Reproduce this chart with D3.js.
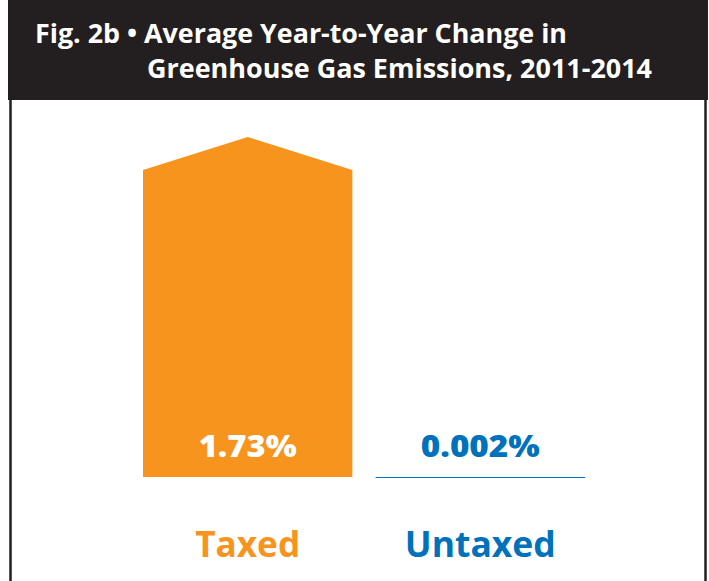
<!DOCTYPE html>
<html>
<head>
<meta charset="utf-8">
<script src="https://cdn.jsdelivr.net/npm/d3@7"></script>
<style>
  body { margin: 0; background: #fff; }
  svg { display: block; font-family: "Open Sans", sans-serif; }
</style>
</head>
<body>
<svg id="chart" width="709" height="581"></svg>
<script>
// data
var categories = ["Taxed", "Untaxed"];
var values = [1.73, 0.002];
var valueLabels = ["1.73%", "0.002%"];
var titleLines = ["Fig. 2b \u2022 Average Year-to-Year Change in", "Greenhouse Gas Emissions, 2011-2014"];

var orange = "#f7941e", blue = "#0071bb", dark = "#231f20";

var svg = d3.select("#chart");

// frame + header
svg.append("rect")
    .attr("x", 10.5).attr("y", 60)
    .attr("width", 695).attr("height", 530)
    .attr("fill", "#fff").attr("stroke", dark).attr("stroke-width", 2.5);

svg.append("rect")
    .attr("x", 8).attr("y", 0)
    .attr("width", 700).attr("height", 100)
    .attr("fill", dark);

svg.append("text")
    .attr("x", 35).attr("y", 43)
    .attr("fill", "#fff")
    .attr("font-size", 27).attr("font-weight", 700)
    .attr("textLength", 532).attr("lengthAdjust", "spacingAndGlyphs")
    .text(titleLines[0]);

svg.append("text")
    .attr("x", 147).attr("y", 78)
    .attr("fill", "#fff")
    .attr("font-size", 27).attr("font-weight", 700)
    .attr("textLength", 505).attr("lengthAdjust", "spacingAndGlyphs")
    .text(titleLines[1]);

// scales
var x = d3.scaleBand()
    .domain(categories)
    .range([143, 585])
    .paddingInner(0.1);

var y = d3.scaleLinear()
    .domain([0, 1.73])
    .range([477, 170]);

var colors = d3.scaleOrdinal().domain(categories).range([orange, blue]);

// arrow-topped bars (taxed bar is cut off, shown with a point)
var arrow = 33;
svg.append("g").selectAll("path")
    .data(categories)
    .enter().append("path")
    .attr("d", function(d, i) {
      var x0 = x(d), x1 = x(d) + x.bandwidth(), xm = x0 + x.bandwidth() / 2;
      var top = y(values[i]), base = y(0);
      if (i === 0) {
        return "M" + x0 + "," + base + "L" + x0 + "," + top + "L" + xm + "," + (top - arrow) +
               "L" + x1 + "," + top + "L" + x1 + "," + base + "Z";
      }
      return "M" + x0 + "," + (base + 0.5) + "L" + x1 + "," + (base + 0.5);
    })
    .attr("fill", function(d, i) { return i === 0 ? colors(d) : "none"; })
    .attr("stroke", function(d, i) { return i === 0 ? "none" : colors(d); })
    .attr("stroke-width", 1);

// value labels
svg.append("g").selectAll("text")
    .data(categories)
    .enter().append("text")
    .attr("x", function(d) { return x(d) + x.bandwidth() / 2; })
    .attr("y", 457)
    .attr("text-anchor", "middle")
    .attr("font-size", 30).attr("font-weight", 800)
    .attr("textLength", function(d, i) { return i === 0 ? 98 : 119; })
    .attr("lengthAdjust", "spacingAndGlyphs")
    .attr("fill", function(d, i) { return i === 0 ? "#fff" : colors(d); })
    .text(function(d, i) { return valueLabels[i]; });

// category labels
svg.append("g").selectAll("text")
    .data(categories)
    .enter().append("text")
    .attr("x", function(d) { return x(d) + x.bandwidth() / 2; })
    .attr("y", 557)
    .attr("text-anchor", "middle")
    .attr("font-size", 36).attr("font-weight", 700)
    .attr("textLength", function(d, i) { return i === 0 ? 105 : 151; })
    .attr("lengthAdjust", "spacingAndGlyphs")
    .attr("fill", function(d) { return colors(d); })
    .text(function(d) { return d; });
</script>
</body>
</html>
